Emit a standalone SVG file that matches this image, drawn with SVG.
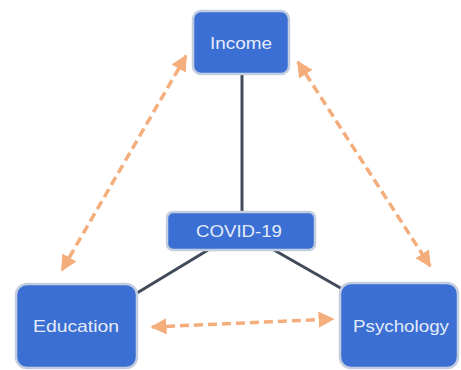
<svg xmlns="http://www.w3.org/2000/svg" width="461" height="370" viewBox="0 0 461 370">
<style>
.box{fill:#3b6fd4;stroke:#c3cde0;stroke-width:2.5}
.lbl{font-family:"Liberation Sans",Arial,sans-serif;font-size:17px;fill:#e4ecf8;text-anchor:middle;dominant-baseline:central}
.solid{stroke:#404a58;stroke-width:3;fill:none}
.dash{stroke:#f4ae7c;stroke-width:3.5;stroke-dasharray:9 5;fill:none;marker-start:url(#ah);marker-end:url(#ah)}
</style>
<defs>
<marker id="ah" viewBox="0 0 10 10" refX="9" refY="5" markerWidth="4.6" markerHeight="4.6" orient="auto-start-reverse" markerUnits="strokeWidth">
<path d="M0,0 L10,5 L0,10 z" fill="#f4ae7c"/>
</marker>
</defs>
<g id="connectors">
<line class="solid" x1="242" y1="74" x2="242" y2="212"/>
<line class="solid" x1="208" y1="250" x2="137" y2="293"/>
<line class="solid" x1="274" y1="250" x2="344" y2="290"/>
<line class="dash" x1="186" y1="56" x2="62" y2="270"/>
<line class="dash" x1="298" y1="62" x2="430" y2="266"/>
<line class="dash" x1="152" y1="327" x2="333" y2="319"/>
</g>
<g id="income">
<rect class="box" x="193" y="11" width="96" height="63" rx="8"/>
<text class="lbl" x="241" y="43" textLength="62" lengthAdjust="spacingAndGlyphs">Income</text>
</g>
<g id="covid">
<rect class="box" x="167" y="212" width="148" height="38" rx="6"/>
<text class="lbl" x="239" y="231" textLength="86" lengthAdjust="spacingAndGlyphs">COVID-19</text>
</g>
<g id="education">
<rect class="box" x="16" y="284" width="121" height="84" rx="11"/>
<text class="lbl" x="76" y="326" textLength="86" lengthAdjust="spacingAndGlyphs">Education</text>
</g>
<g id="psychology">
<rect class="box" x="340" y="283" width="118" height="85" rx="11"/>
<text class="lbl" x="401" y="326" textLength="96" lengthAdjust="spacingAndGlyphs">Psychology</text>
</g>
</svg>
